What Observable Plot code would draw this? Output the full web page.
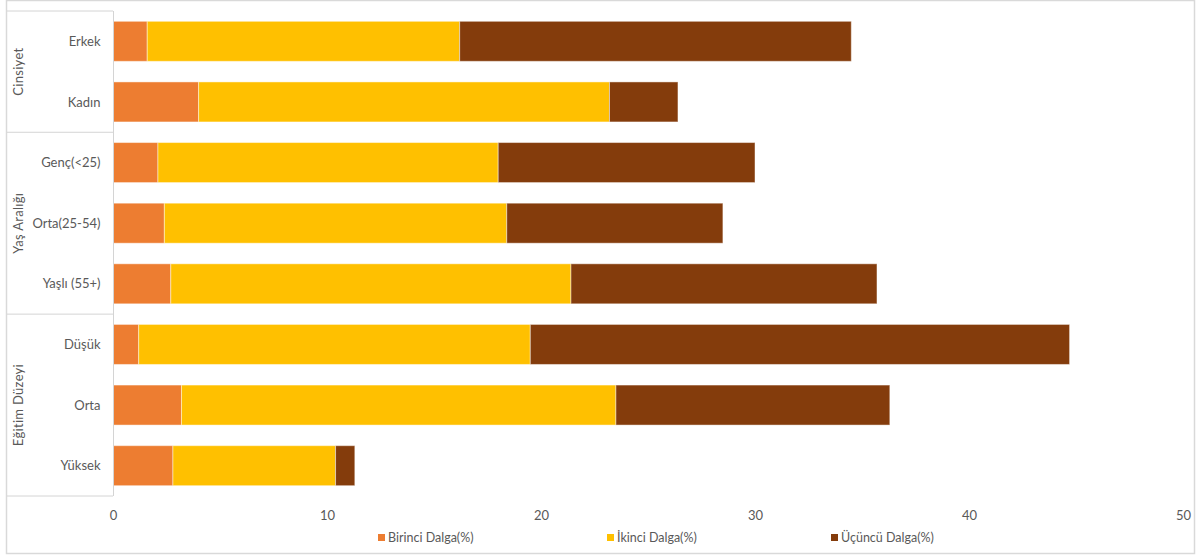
<!DOCTYPE html>
<html><head><meta charset="utf-8">
<script src="https://cdn.jsdelivr.net/npm/d3@7"></script>
<script src="https://cdn.jsdelivr.net/npm/@observablehq/plot@0.6"></script>
<style>
body{margin:0;background:#fff;}
#wrap{position:relative;width:1196px;height:555px;font-family:Lato,sans-serif;}
#legend{position:absolute;top:529px;left:0;width:1196px;height:16px;font-size:12.5px;color:#595959;}
.item{position:absolute;top:0;display:flex;align-items:center;white-space:nowrap;height:16px;}
.sw{width:7px;height:7px;margin-right:3px;}
</style></head><body><div id="wrap"><div id="legend"></div></div>
<script>
const categories = ["Erkek","Kadın","Genç(<25)","Orta(25-54)","Yaşlı (55+)","Düşük","Orta","Yüksek"];
const categoryGroups = ["Cinsiyet","Cinsiyet","Yaş Aralığı","Yaş Aralığı","Yaş Aralığı","Eğitim Düzeyi","Eğitim Düzeyi","Eğitim Düzeyi"];
const groupNames = ["Cinsiyet","Yaş Aralığı","Eğitim Düzeyi"];
const seriesNames = ["Birinci Dalga(%)","İkinci Dalga(%)","Üçüncü Dalga(%)"];
const birinci = [1.6, 4.0, 2.1, 2.4, 2.7, 1.2, 3.2, 2.8];
const ikinci  = [14.6, 19.2, 15.9, 16.0, 18.7, 18.3, 20.3, 7.6];
const ucuncu  = [18.3, 3.2, 12.0, 10.1, 14.3, 25.2, 12.8, 0.9];
const xTicks = [0, 10, 20, 30, 40, 50];
const colors = ["#ED7D31", "#FFC000", "#843C0C"];
const legendX = [378, 607, 831];

const seriesValues = [birinci, ikinci, ucuncu];
const data = seriesNames.flatMap((s, si) =>
  categories.map((c, ci) => ({series: s, category: c, value: seriesValues[si][ci]})));

const W = 1196, H = 555, ML = 113, MR = 13, MT = 11, MB = 59;
const plot = Plot.plot({
  width: W, height: H,
  marginLeft: ML, marginRight: MR, marginTop: MT, marginBottom: MB,
  style: {fontFamily: "Lato, sans-serif", fontSize: "13px", color: "#595959", background: "transparent", overflow: "visible"},
  x: {domain: [0, 50], ticks: xTicks, label: null, tickSize: 0, tickPadding: 14},
  y: {domain: categories, label: null, tickSize: 0, tickPadding: 13, paddingInner: 0.34, paddingOuter: 0.17, round: false},
  color: {domain: seriesNames, range: colors},
  marks: [
    Plot.barX(data, {y: "category", x: "value", fill: "series", z: "series", order: seriesNames,
      stroke: "#ffffff", strokeOpacity: 0.45, strokeWidth: 1}),
    Plot.ruleX([0], {stroke: "#d4d4d4", strokeWidth: 1})
  ]
});

const svg = d3.select(plot);
const ys = plot.scale("y");
const step = ys.step ?? ((ys.range[1] - ys.range[0]) / (categories.length - 0.34 + 0.34));
const bw = ys.bandwidth;
const gap = (step - bw) / 2;
const topOf = c => ys.apply(c) - gap;
const bottomOf = c => ys.apply(c) + bw + gap;

const deco = svg.append("g");
// outer border
deco.append("rect").attr("x", 6.5).attr("y", 0.5).attr("width", 1188).attr("height", 553)
  .attr("fill", "none").attr("stroke", "#d9d9d9").attr("stroke-width", 1.5);

groupNames.forEach((g, gi) => {
  const cats = categories.filter((c, i) => categoryGroups[i] === g);
  const y0 = topOf(cats[0]), y1 = bottomOf(cats[cats.length - 1]);
  deco.append("line").attr("x1", 7).attr("x2", ML).attr("y1", y0).attr("y2", y0)
    .attr("stroke", "#d4d4d4").attr("stroke-width", 1);
  if (gi === groupNames.length - 1) {
    deco.append("line").attr("x1", 7).attr("x2", ML).attr("y1", y1).attr("y2", y1)
      .attr("stroke", "#d4d4d4").attr("stroke-width", 1);
  }
  deco.append("text").attr("transform", `translate(18,${(y0 + y1) / 2}) rotate(-90)`)
    .attr("text-anchor", "middle").attr("dy", "0.35em")
    .attr("fill", "#595959").style("font-size", "13px").style("letter-spacing", "0.3px").text(g);
});

document.getElementById("wrap").prepend(plot);

const legend = document.getElementById("legend");
seriesNames.forEach((s, i) => {
  const it = document.createElement("div");
  it.className = "item";
  it.style.left = legendX[i] + "px";
  const sw = document.createElement("span");
  sw.className = "sw"; sw.style.background = colors[i];
  const t = document.createElement("span"); t.textContent = s;
  it.appendChild(sw); it.appendChild(t);
  legend.appendChild(it);
});
</script></body></html>
